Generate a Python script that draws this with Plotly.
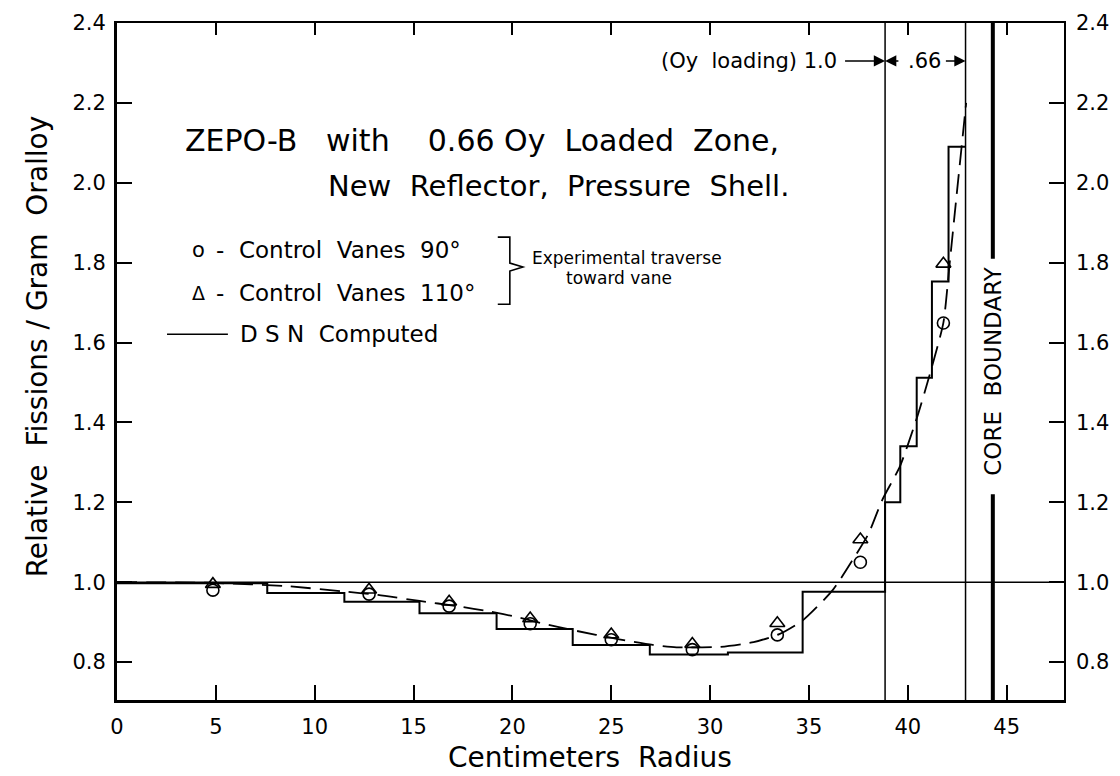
import plotly.graph_objects as go

# DSN computed relative fission profile (step histogram): zone edges in cm and level per zone
zone_edges = [0, 7.6, 11.5, 15.3, 19.2, 23.05, 26.95, 30.9, 34.68, 38.85,
              39.62, 40.45, 41.22, 42.06, 42.92]
zone_levels = [0.997, 0.973, 0.951, 0.922, 0.883, 0.843, 0.819, 0.824, 0.976,
               1.20, 1.34, 1.512, 1.753, 2.09]

# Experimental traverse toward vane
traverse_r = [4.85, 12.75, 16.8, 20.9, 25.0, 29.1, 33.4, 37.6, 41.8]
vanes_90 = [0.980, 0.970, 0.940, 0.896, 0.856, 0.831, 0.868, 1.050, 1.649]
vanes_110 = [0.995, 0.981, 0.951, 0.909, 0.869, 0.845, 0.897, 1.107, 1.797]

# Faired (dashed) curve through the measurements
fair_r = [0, 5, 8.6, 11.4, 13.2, 15.3, 17.2, 18.9, 20.2, 21.5, 23.05, 25.4, 27.1,
          28.3, 30.5, 32.2, 33.5, 34.7, 36.2, 37.2, 38.0, 38.7, 39.6, 40.45,
          41.1, 41.8, 42.1, 42.45, 42.95]
fair_f = [1.0, 0.998, 0.99, 0.977, 0.968, 0.953, 0.94, 0.926, 0.913, 0.897, 0.88,
          0.857, 0.843, 0.837, 0.838, 0.85, 0.87, 0.905, 0.98, 1.055, 1.12, 1.205,
          1.29, 1.41, 1.518, 1.65, 1.79, 1.96, 2.2]

# Zone boundaries (cm)
oy_zone_start = 38.85
oy_zone_end = 42.92
core_boundary = 44.3

x_ticks = [0, 5, 10, 15, 20, 25, 30, 35, 40, 45]
y_ticks = [0.8, 1.0, 1.2, 1.4, 1.6, 1.8, 2.0, 2.2, 2.4]
x_range = [0, 47.9]
y_range = [0.705, 2.4]

FONT = "DejaVu Sans"
INK = "black"

# build the step outline from edges/levels
step_x, step_y = [], []
for i, lvl in enumerate(zone_levels):
    step_x += [zone_edges[i], zone_edges[i + 1]]
    step_y += [lvl, lvl]

fig = go.Figure()

fig.add_trace(go.Scatter(x=step_x, y=step_y, mode="lines",
                         line=dict(color=INK, width=2), hoverinfo="skip"))
fig.add_trace(go.Scatter(x=fair_r, y=fair_f, mode="lines",
                         line=dict(color=INK, width=1.8, dash="20px,9px", shape="spline",
                                   smoothing=0.6),
                         hoverinfo="skip"))
fig.add_trace(go.Scatter(x=traverse_r, y=vanes_90, mode="markers",
                         marker=dict(symbol="circle-open", size=12, color=INK,
                                     line=dict(width=1.6, color=INK))))
fig.add_trace(go.Scatter(x=traverse_r, y=vanes_110, mode="markers",
                         marker=dict(symbol="triangle-up-open", size=13, color=INK,
                                     line=dict(width=1.6, color=INK))))
# anchor trace for the mirrored top/right axes
fig.add_trace(go.Scatter(x=[None], y=[None], xaxis="x2", yaxis="y2", hoverinfo="skip"))

shapes = [
    # unit level across the plot
    dict(type="line", xref="x", yref="y", x0=x_range[0], x1=x_range[1], y0=1.0, y1=1.0,
         line=dict(color=INK, width=1.5)),
    # Oy loaded zone boundaries
    dict(type="line", xref="x", yref="paper", x0=oy_zone_start, x1=oy_zone_start, y0=0, y1=1,
         line=dict(color=INK, width=1.5)),
    dict(type="line", xref="x", yref="paper", x0=oy_zone_end, x1=oy_zone_end, y0=0, y1=1,
         line=dict(color=INK, width=1.5)),
    # core boundary (broken around its label)
    dict(type="line", xref="x", yref="y", x0=core_boundary, x1=core_boundary, y0=1.81, y1=2.4,
         line=dict(color=INK, width=4)),
    dict(type="line", xref="x", yref="y", x0=core_boundary, x1=core_boundary, y0=y_range[0], y1=1.22,
         line=dict(color=INK, width=4)),
    # legend line sample
    dict(type="line", xref="x", yref="y", x0=2.53, x1=5.61, y0=1.621, y1=1.621,
         line=dict(color=INK, width=1.5)),
    # brace grouping the two experimental series
    dict(type="path", xref="x", yref="y",
         path="M 19.26 1.864 L 19.87 1.864 L 19.87 1.799 L 20.53 1.789 L 19.87 1.779 "
              "L 19.87 1.696 L 19.26 1.696",
         line=dict(color=INK, width=1.6)),
]

txt = dict(family=FONT, color=INK)


def label(x, y, text, size, xanchor="center", **kw):
    return dict(x=x, y=y, text=text, xanchor=xanchor, yanchor="middle", showarrow=False,
                font=dict(size=size, **txt), **kw)


annotations = [
    label(3.34, 2.105, "ZEPO-B   with    0.66 Oy  Loaded  Zone,", 30, "left"),
    label(34.1, 1.992, "New  Reflector,  Pressure  Shell.", 29, "right"),
    # legend: symbol column + text column
    label(4.1, 1.832, "o", 21),
    label(4.1, 1.724, "Δ", 19),
    label(4.9, 1.832, "-  Control  Vanes  90°", 23, "left"),
    label(4.9, 1.724, "-  Control  Vanes  110°", 23, "left"),
    label(6.12, 1.621, "D S N  Computed", 23, "left"),
    label(20.9, 1.812, "Experimental traverse", 17, "left"),
    label(25.4, 1.762, "toward vane", 17),
    label(core_boundary, 1.529, "CORE  BOUNDARY", 23, textangle=-90),
    label(36.5, 2.305, "(Oy  loading) 1.0", 21, "right"),
    label(40.85, 2.305, ".66", 21),
    # zone arrows
    dict(x=oy_zone_start, y=2.305, ax=36.75, ay=2.305, xref="x", yref="y", axref="x", ayref="y",
         text="", showarrow=True, arrowhead=2, arrowsize=1.5, arrowwidth=1.5, arrowcolor=INK),
    dict(x=oy_zone_start, y=2.305, ax=39.6, ay=2.305, xref="x", yref="y", axref="x", ayref="y",
         text="", showarrow=True, arrowhead=2, arrowsize=1.5, arrowwidth=1.5, arrowcolor=INK),
    dict(x=oy_zone_end, y=2.305, ax=41.85, ay=2.305, xref="x", yref="y", axref="x", ayref="y",
         text="", showarrow=True, arrowhead=2, arrowsize=1.5, arrowwidth=1.5, arrowcolor=INK),
    # axis titles
    label(-0.083, 0.523, "Relative  Fissions / Gram  Oralloy", 28, textangle=-90,
          xref="paper", yref="paper"),
    label(0.4995, -0.085, "Centimeters  Radius", 28, xref="paper", yref="paper"),
]

tickfont = dict(family=FONT, size=21, color=INK)
fig.update_layout(
    width=1120, height=776,
    margin=dict(l=117, r=56, t=23, b=76),
    paper_bgcolor="white", plot_bgcolor="white",
    showlegend=False,
    shapes=shapes, annotations=annotations,
    xaxis=dict(range=x_range, tickvals=x_ticks, ticktext=[str(v) for v in x_ticks],
               ticks="inside", ticklen=15, tickwidth=1.5, tickcolor=INK,
               showline=True, linewidth=3, linecolor=INK, showgrid=False, zeroline=False,
               tickfont=tickfont, ticklabelstandoff=6),
    yaxis=dict(range=y_range, tickvals=y_ticks, ticktext=[f"{v:.1f}" for v in y_ticks],
               ticks="inside", ticklen=15, tickwidth=1.5, tickcolor=INK,
               showline=True, linewidth=3, linecolor=INK, showgrid=False, zeroline=False,
               tickfont=tickfont, ticklabelstandoff=4),
    xaxis2=dict(range=x_range, overlaying="x", side="top", tickvals=x_ticks,
                showticklabels=False, ticks="inside", ticklen=12, tickwidth=1.5, tickcolor=INK,
                showline=True, linewidth=1.5, linecolor=INK, showgrid=False, zeroline=False),
    yaxis2=dict(range=y_range, overlaying="y", side="right", tickvals=y_ticks,
                ticktext=[f"{v:.1f}" for v in y_ticks],
                ticks="inside", ticklen=15, tickwidth=1.5, tickcolor=INK,
                showline=True, linewidth=1.5, linecolor=INK, showgrid=False, zeroline=False,
                tickfont=tickfont, ticklabelstandoff=6),
)

fig.write_html("out.html")
